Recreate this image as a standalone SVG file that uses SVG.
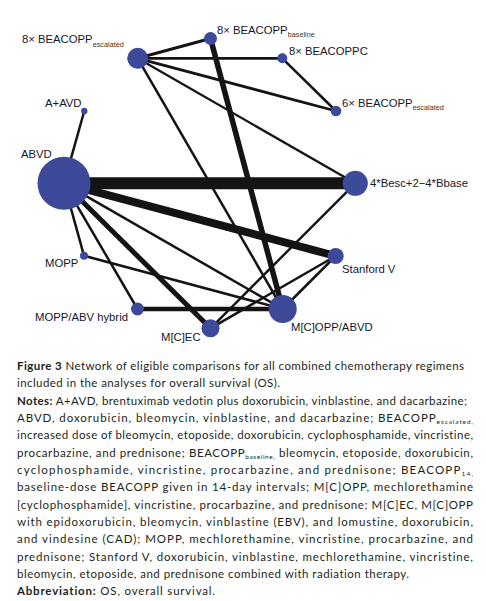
<svg xmlns="http://www.w3.org/2000/svg" width="486" height="601" viewBox="0 0 486 601">
<style>
.e{stroke:#141414;fill:none;stroke-linecap:butt}
.n{fill:#3c4a99}
.l{font-family:"Liberation Sans",Arial,sans-serif;font-size:11.3px;fill:#15162a}
.s{font-size:7.3px;fill:#4a3522}
.c{font-family:Lato,"Liberation Sans",sans-serif;font-size:11.5px;fill:#231f20;font-variant-ligatures:none}
.b{font-weight:bold}
.cs{font-size:6.5px}
</style>
<rect width="486" height="601" fill="#fff"/>
<g id="connectors">
<line class="e" x1="137.7" y1="58.3" x2="210.5" y2="38.5" stroke-width="3"/>
<line class="e" x1="137.7" y1="58.3" x2="282.3" y2="58.3" stroke-width="2.8"/>
<line class="e" x1="137.7" y1="58.3" x2="336" y2="111" stroke-width="2.8"/>
<line class="e" x1="137.7" y1="58.3" x2="355.3" y2="183.3" stroke-width="2.3"/>
<line class="e" x1="137.7" y1="58.3" x2="282.7" y2="309" stroke-width="2.5"/>
<line class="e" x1="210.5" y1="38.5" x2="282.7" y2="309" stroke-width="5.5"/>
<line class="e" x1="282.3" y1="58.3" x2="336" y2="111" stroke-width="2.5"/>
<line class="e" x1="84.3" y1="111" x2="64" y2="183.3" stroke-width="2.5"/>
<line class="e" x1="64" y1="183.3" x2="355.3" y2="183.3" stroke-width="12"/>
<line class="e" x1="64" y1="183.3" x2="335.7" y2="256" stroke-width="8"/>
<line class="e" x1="64" y1="183.3" x2="84" y2="255.7" stroke-width="2.5"/>
<line class="e" x1="64" y1="183.3" x2="137.5" y2="309" stroke-width="2.5"/>
<line class="e" x1="64" y1="183.3" x2="210.5" y2="328.3" stroke-width="5"/>
<line class="e" x1="64" y1="183.3" x2="282.7" y2="309" stroke-width="2.5"/>
<line class="e" x1="84" y1="255.7" x2="282.7" y2="309" stroke-width="2.5"/>
<line class="e" x1="137.5" y1="309" x2="282.7" y2="309" stroke-width="4.5"/>
<line class="e" x1="355.3" y1="183.3" x2="210.5" y2="328.3" stroke-width="2.5"/>
<line class="e" x1="335.7" y1="256" x2="210.5" y2="328.3" stroke-width="2.5"/>
<line class="e" x1="335.7" y1="256" x2="282.7" y2="309" stroke-width="2.5"/>
</g>
<g id="n_8esc"><circle class="n" cx="137.7" cy="58.3" r="10.5"/><text class="l" x="22" y="43">8× BEACOPP<tspan class="s" dy="4">escalated</tspan></text></g>
<g id="n_8base"><circle class="n" cx="210.5" cy="38.5" r="6.5"/><text class="l" x="217" y="33.5">8× BEACOPP<tspan class="s" dy="3">baseline</tspan></text></g>
<g id="n_8c"><circle class="n" cx="282.3" cy="58.3" r="5"/><text class="l" x="289" y="54.5">8× BEACOPPC</text></g>
<g id="n_6esc"><circle class="n" cx="336" cy="111" r="5.3"/><text class="l" x="342" y="107">6× BEACOPP<tspan class="s" dy="3">escalated</tspan></text></g>
<g id="n_aavd"><circle class="n" cx="84.3" cy="111" r="3.2"/><text class="l" x="45" y="107">A+AVD</text></g>
<g id="n_abvd"><circle class="n" cx="64" cy="183.3" r="26.5"/><text class="l" x="21" y="158.3">ABVD</text></g>
<g id="n_4b"><circle class="n" cx="355.3" cy="183.3" r="12.5"/><text class="l" x="370" y="187">4*Besc+2−4*Bbase</text></g>
<g id="n_mopp"><circle class="n" cx="84" cy="255.7" r="4"/><text class="l" x="45" y="266.7">MOPP</text></g>
<g id="n_hybrid"><circle class="n" cx="137.5" cy="309" r="6.5"/><text class="l" x="35" y="320.5">MOPP/ABV hybrid</text></g>
<g id="n_mcec"><circle class="n" cx="210.5" cy="328.3" r="9"/><text class="l" x="161" y="340.5">M[C]EC</text></g>
<g id="n_stanford"><circle class="n" cx="335.7" cy="256" r="8"/><text class="l" x="342" y="272.7">Stanford V</text></g>
<g id="n_mcopp"><circle class="n" cx="282.7" cy="309" r="14"/><text class="l" x="291" y="330.7">M[C]OPP/ABVD</text></g>
<g id="caption">
<text class="c" x="17" y="370" textLength="447" lengthAdjust="spacing"><tspan class="b">Figure 3</tspan> Network of eligible comparisons for all combined chemotherapy regimens</text>
<text class="c" x="17" y="387.3" textLength="263" lengthAdjust="spacing">included in the analyses for overall survival (OS).</text>
<text class="c" x="17" y="404.7" textLength="450" lengthAdjust="spacing"><tspan class="b">Notes:</tspan> A+AVD, brentuximab vedotin plus doxorubicin, vinblastine, and dacarbazine;</text>
<text class="c" x="17" y="422" textLength="456" lengthAdjust="spacing">ABVD, doxorubicin, bleomycin, vinblastine, and dacarbazine; BEACOPP<tspan class="cs" dy="2">escalated,</tspan></text>
<text class="c" x="17" y="439.3" textLength="456" lengthAdjust="spacing">increased dose of bleomycin, etoposide, doxorubicin, cyclophosphamide, vincristine,</text>
<text class="c" x="17" y="456.7" textLength="456" lengthAdjust="spacing">procarbazine, and prednisone; BEACOPP<tspan class="cs" dy="2">baseline,</tspan><tspan dy="-2"> bleomycin, etoposide, doxorubicin,</tspan></text>
<text class="c" x="17" y="474" textLength="456" lengthAdjust="spacing">cyclophosphamide, vincristine, procarbazine, and prednisone; BEACOPP<tspan class="cs" dy="2">14,</tspan></text>
<text class="c" x="17" y="491.3" textLength="456" lengthAdjust="spacing">baseline-dose BEACOPP given in 14-day intervals; M[C]OPP, mechlorethamine</text>
<text class="c" x="17" y="508.7" textLength="456" lengthAdjust="spacing">[cyclophosphamide], vincristine, procarbazine, and prednisone; M[C]EC, M[C]OPP</text>
<text class="c" x="17" y="526" textLength="456" lengthAdjust="spacing">with epidoxorubicin, bleomycin, vinblastine (EBV), and lomustine, doxorubicin,</text>
<text class="c" x="17" y="543.3" textLength="456" lengthAdjust="spacing">and vindesine (CAD); MOPP, mechlorethamine, vincristine, procarbazine, and</text>
<text class="c" x="17" y="560.7" textLength="456" lengthAdjust="spacing">prednisone; Stanford V, doxorubicin, vinblastine, mechlorethamine, vincristine,</text>
<text class="c" x="17" y="578" textLength="392" lengthAdjust="spacing">bleomycin, etoposide, and prednisone combined with radiation therapy.</text>
<text class="c" x="17" y="595.3" textLength="198" lengthAdjust="spacing"><tspan class="b">Abbreviation:</tspan> OS, overall survival.</text>
</g>
</svg>
